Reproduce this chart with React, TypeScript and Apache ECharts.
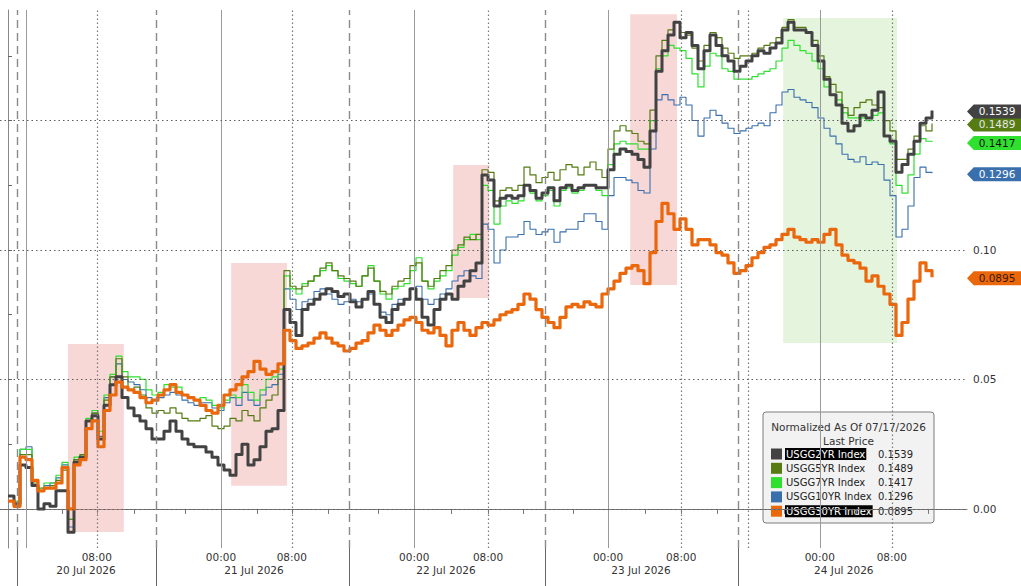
import React, { useEffect, useRef } from "react";
import * as echarts from "echarts";

// ---- series (sampled every time step, index = chart time slot) ----
const seriesNames = ["USGG2YR Index", "USGG5YR Index", "USGG7YR Index", "USGG10YR Index", "USGG30YR Index"];
const seriesColors = ["#424242", "#557b12", "#2fe02f", "#3a6fad", "#ea670c"];
const tagTextColors = ["#ffffff", "#e6e6e6", "#111111", "#ffffff", "#3a1800"];
const lineWidths = [3, 1.2, 1.2, 1.1, 3.2];
const lastPrices = [0.1539, 0.1489, 0.1417, 0.1296, 0.0895];
const highlighted = [true, false, false, false, true];

const usgg2YR = [
  0.005, 0.002, 0.017, 0.016, 0.009, 0.0, 0.002, 0.001, 0.007, 0.007,
  -0.009, 0.018, 0.02, 0.034, 0.036, 0.027, 0.04, 0.048, 0.051, 0.043,
  0.039, 0.036, 0.034, 0.031, 0.027, 0.027, 0.03, 0.034, 0.03, 0.027,
  0.025, 0.024, 0.024, 0.022, 0.02, 0.017, 0.015, 0.013, 0.021, 0.025,
  0.017, 0.019, 0.024, 0.03, 0.031, 0.038, 0.077, 0.072, 0.067, 0.077,
  0.079, 0.081, 0.083, 0.085, 0.084, 0.082, 0.083, 0.08, 0.078, 0.081,
  0.084, 0.079, 0.074, 0.072, 0.077, 0.079, 0.081, 0.085, 0.081, 0.074,
  0.071, 0.077, 0.081, 0.083, 0.081, 0.086, 0.088, 0.092, 0.095, 0.129,
  0.127, 0.117, 0.12, 0.121, 0.12, 0.121, 0.125, 0.123, 0.12, 0.122,
  0.124, 0.119, 0.124, 0.125, 0.123, 0.124, 0.125, 0.125, 0.124, 0.124,
  0.131, 0.137, 0.139, 0.138, 0.137, 0.135, 0.132, 0.146, 0.169, 0.177,
  0.183, 0.188, 0.182, 0.184, 0.179, 0.17, 0.177, 0.183, 0.179, 0.175,
  0.173, 0.169, 0.171, 0.173, 0.175, 0.177, 0.176, 0.178, 0.18, 0.185,
  0.188, 0.185, 0.185, 0.184, 0.179, 0.173, 0.166, 0.16, 0.156, 0.149,
  0.146, 0.148, 0.152, 0.151, 0.154, 0.161, 0.144, 0.142, 0.13, 0.133,
  0.137, 0.142, 0.149, 0.151, 0.1539,
];
const usgg5YR = [
  0.005, 0.002, 0.021, 0.021, 0.01, 0.007, 0.008, 0.009, 0.011, 0.015,
  -0.004, 0.019, 0.021, 0.034, 0.037, 0.027, 0.042, 0.051, 0.058, 0.051,
  0.046, 0.047, 0.044, 0.039, 0.037, 0.038, 0.037, 0.039, 0.037, 0.035,
  0.034, 0.034, 0.035, 0.036, 0.032, 0.031, 0.032, 0.035, 0.034, 0.038,
  0.036, 0.034, 0.039, 0.042, 0.044, 0.05, 0.092, 0.086, 0.085, 0.086,
  0.088, 0.09, 0.093, 0.095, 0.092, 0.09, 0.089, 0.088, 0.086, 0.09,
  0.093, 0.088, 0.084, 0.083, 0.086, 0.088, 0.089, 0.094, 0.095, 0.088,
  0.086, 0.089, 0.092, 0.094, 0.1, 0.102, 0.105, 0.104, 0.106, 0.131,
  0.13, 0.119, 0.123, 0.124, 0.123, 0.125, 0.132, 0.129, 0.126, 0.128,
  0.13, 0.127, 0.131, 0.133, 0.132, 0.129, 0.132, 0.134, 0.131, 0.128,
  0.139, 0.146, 0.148, 0.146, 0.145, 0.142, 0.141, 0.154, 0.175, 0.181,
  0.185, 0.188, 0.184, 0.183, 0.178, 0.173, 0.179, 0.184, 0.182, 0.178,
  0.176, 0.174, 0.175, 0.175, 0.176, 0.178, 0.179, 0.18, 0.182, 0.186,
  0.189, 0.186, 0.186, 0.184, 0.181, 0.175, 0.167, 0.164, 0.161, 0.155,
  0.152, 0.155, 0.157, 0.158, 0.156, 0.155, 0.15, 0.146, 0.135, 0.135,
  0.139, 0.144, 0.148, 0.146, 0.1489,
];
const usgg7YR = [
  0.005, 0.003, 0.023, 0.023, 0.011, 0.008, 0.01, 0.01, 0.013, 0.018,
  -0.004, 0.02, 0.021, 0.035, 0.038, 0.03, 0.044, 0.052, 0.059, 0.053,
  0.051, 0.051, 0.05, 0.046, 0.044, 0.045, 0.048, 0.047, 0.047, 0.044,
  0.043, 0.042, 0.043, 0.042, 0.04, 0.039, 0.042, 0.044, 0.043, 0.048,
  0.045, 0.042, 0.046, 0.05, 0.051, 0.054, 0.09, 0.085, 0.083, 0.087,
  0.088, 0.09, 0.092, 0.094, 0.092, 0.089, 0.088, 0.087, 0.086, 0.09,
  0.094, 0.088, 0.083, 0.081, 0.085, 0.086, 0.087, 0.092, 0.097, 0.088,
  0.085, 0.088, 0.09, 0.092, 0.098, 0.101, 0.104, 0.106, 0.104, 0.125,
  0.123, 0.11, 0.117, 0.119, 0.118, 0.119, 0.125, 0.122, 0.119, 0.121,
  0.123, 0.117, 0.123, 0.124, 0.122, 0.123, 0.125, 0.125, 0.123, 0.121,
  0.133, 0.141, 0.142, 0.141, 0.141, 0.139, 0.139, 0.15, 0.17, 0.175,
  0.179, 0.178, 0.177, 0.174, 0.168, 0.163, 0.171, 0.176, 0.175, 0.17,
  0.169, 0.166, 0.166, 0.166, 0.167, 0.168, 0.169, 0.17, 0.173, 0.178,
  0.181, 0.179, 0.177, 0.176, 0.173, 0.17, 0.163, 0.16, 0.158, 0.153,
  0.151, 0.151, 0.151, 0.15, 0.152, 0.153, 0.144, 0.141, 0.125, 0.122,
  0.129, 0.137, 0.143, 0.142, 0.1417,
];
const usgg10YR = [
  0.005, 0.002, 0.023, 0.024, 0.011, 0.008, 0.009, 0.01, 0.012, 0.017,
  -0.007, 0.019, 0.02, 0.034, 0.037, 0.028, 0.043, 0.051, 0.056, 0.05,
  0.049, 0.048, 0.046, 0.043, 0.042, 0.043, 0.044, 0.045, 0.044, 0.042,
  0.041, 0.04, 0.041, 0.041, 0.039, 0.038, 0.041, 0.043, 0.04, 0.045,
  0.042, 0.04, 0.044, 0.047, 0.048, 0.052, 0.085, 0.081, 0.077, 0.08,
  0.081, 0.084, 0.085, 0.083, 0.081, 0.079, 0.08, 0.081, 0.08, 0.081,
  0.083, 0.079, 0.076, 0.075, 0.079, 0.081, 0.081, 0.085, 0.086, 0.081,
  0.079, 0.081, 0.083, 0.085, 0.088, 0.09, 0.092, 0.09, 0.089, 0.11,
  0.108, 0.095, 0.1, 0.105, 0.105, 0.106, 0.111, 0.108, 0.106, 0.107,
  0.108, 0.103, 0.107, 0.108, 0.108, 0.111, 0.114, 0.114, 0.111, 0.108,
  0.121, 0.128, 0.128, 0.127, 0.126, 0.123, 0.122, 0.139, 0.158, 0.16,
  0.158, 0.156, 0.159, 0.156, 0.15, 0.144, 0.151, 0.154, 0.152, 0.149,
  0.147, 0.145, 0.146, 0.147, 0.148, 0.149, 0.148, 0.153, 0.156, 0.161,
  0.162, 0.159, 0.158, 0.157, 0.155, 0.151, 0.147, 0.144, 0.141, 0.137,
  0.135, 0.134, 0.136, 0.133, 0.134, 0.133, 0.127, 0.121, 0.105, 0.108,
  0.117, 0.128, 0.132, 0.13, 0.1296,
];
const usgg30YR = [
  0.003, 0.001, 0.02, 0.019, 0.011, 0.007, 0.008, 0.008, 0.01, 0.016,
  0.0, 0.017, 0.019, 0.031, 0.034, 0.024, 0.038, 0.044, 0.049, 0.047,
  0.046, 0.045, 0.043, 0.041, 0.042, 0.044, 0.046, 0.048, 0.045, 0.044,
  0.043, 0.042, 0.04, 0.038, 0.037, 0.04, 0.044, 0.046, 0.048, 0.051,
  0.053, 0.057, 0.054, 0.052, 0.053, 0.056, 0.069, 0.065, 0.062, 0.063,
  0.064, 0.066, 0.068, 0.066, 0.064, 0.063, 0.061, 0.062, 0.064, 0.065,
  0.068, 0.071, 0.069, 0.067, 0.069, 0.071, 0.073, 0.074, 0.072, 0.069,
  0.068, 0.07, 0.067, 0.063, 0.069, 0.072, 0.069, 0.067, 0.07, 0.072,
  0.071, 0.073, 0.075, 0.076, 0.077, 0.079, 0.083, 0.081, 0.077, 0.074,
  0.072, 0.07, 0.074, 0.078, 0.079, 0.078, 0.08, 0.079, 0.078, 0.083,
  0.085, 0.088, 0.091, 0.093, 0.094, 0.092, 0.087, 0.099, 0.111, 0.118,
  0.114, 0.108, 0.112, 0.108, 0.102, 0.104, 0.104, 0.102, 0.099, 0.098,
  0.095, 0.091, 0.092, 0.094, 0.097, 0.099, 0.101, 0.102, 0.104, 0.106,
  0.108, 0.105, 0.104, 0.103, 0.104, 0.103, 0.106, 0.108, 0.102, 0.098,
  0.096, 0.095, 0.093, 0.088, 0.09, 0.086, 0.083, 0.079, 0.067, 0.072,
  0.081, 0.088, 0.095, 0.092, 0.0895,
];
const seriesValues = [usgg2YR, usgg5YR, usgg7YR, usgg10YR, usgg30YR];
const drawOrder = [3, 2, 1, 0, 4];

// ---- axes (x in chart time slots) ----
const xMin = -1.333;
const xMax = 159.833;
const timeTickPos = [14.8, 35.5, 47.3, 67.7, 80, 100, 112.2, 135.3, 147.3];
const timeTickLabels = ["08:00", "00:00", "08:00", "00:00", "08:00", "00:00", "08:00", "00:00", "08:00"];
const minorTickPos = [3, 9, 14.8, 21, 29.5, 35.5, 41.5, 47.3, 53.3, 61.7, 67.7, 73.8, 80, 85.8, 94.2, 100, 106.2, 112.2, 118.2, 129.3, 135.3, 141.3, 147.3, 153.3];
const dayLabelPos = [13, 41, 73, 105.5, 139.3];
const dayLabels = ["20 Jul 2026", "21 Jul 2026", "22 Jul 2026", "23 Jul 2026", "24 Jul 2026"];
const sessionBreaks = [1.5, 24.7, 56.8, 89.5, 121.7];
const midnights = [3, 35.5, 67.7, 100, 135.3];
const morningLines = [14.8, 47.3, 80, 112.2, 123.3, 147.3];
const yMin = -0.0151;
const yMax = 0.1927;
const yGridValues = [0, 0.05, 0.1, 0.15];
const yLabelValues = [0, 0.05, 0.1];
const yTickValues = [0, 0.025, 0.05, 0.075, 0.1, 0.125, 0.15, 0.175];

// ---- shaded windows ----
const shadeX0 = [10, 37.2, 74.2, 103.7, 129.2];
const shadeX1 = [19.3, 46.5, 80.2, 111.5, 148.2];
const shadeY0 = [-0.0089, 0.0089, 0.0815, 0.0865, 0.0641];
const shadeY1 = [0.0637, 0.095, 0.1328, 0.1911, 0.1896];
const shadeColors = ["rgba(236,150,150,0.38)", "rgba(236,150,150,0.38)", "rgba(236,150,150,0.38)", "rgba(236,150,150,0.38)", "rgba(170,220,150,0.32)"];

const FONT = '"DejaVu Sans", Verdana, sans-serif';

function pickLabel(pos: number[], labels: string[], v: number) {
  const k = pos.findIndex((p) => Math.abs(p - v) < 0.01);
  return k >= 0 ? labels[k] : "";
}

function buildOption() {
  const helper = {
    type: "line",
    data: [],
    z: 1,
    silent: true,
    markArea: {
      silent: true,
      data: shadeX0.map((x0, k) => [
        { xAxis: x0, yAxis: shadeY0[k], itemStyle: { color: shadeColors[k] } },
        { xAxis: shadeX1[k], yAxis: shadeY1[k] },
      ]),
    },
    markLine: {
      silent: true,
      symbol: ["none", "none"],
      label: { show: false },
      data: [
        ...sessionBreaks.map((v) => ({ xAxis: v, lineStyle: { type: [8, 5], color: "#8a8a8a", width: 1.4 } })),
        ...midnights.map((v) => ({ xAxis: v, lineStyle: { type: "solid", color: "#9a9a9a", width: 1 } })),
        ...morningLines.map((v) => ({ xAxis: v, lineStyle: { type: [1.5, 2.5], color: "#7a7a7a", width: 1.2 } })),
        ...yGridValues.map((v) => ({ yAxis: v, lineStyle: { type: [1.5, 3], color: "#5e5e5e", width: 1.2 } })),
      ],
    },
  };

  const lines = drawOrder.map((si) => ({
    type: "line",
    name: seriesNames[si],
    data: seriesValues[si].map((v, i) => [i, v]),
    step: "end",
    showSymbol: false,
    clip: false,
    z: 3,
    lineStyle: { color: seriesColors[si], width: lineWidths[si], join: "round" },
    itemStyle: { color: seriesColors[si] },
    markPoint: {
      silent: true,
      symbol: "path://M0,7L7,0L56,0L56,14L7,14Z",
      symbolSize: [54, 14],
      symbolOffset: [27, 1],
      data: [{ coord: [xMax, lastPrices[si]], value: lastPrices[si] }],
      itemStyle: { color: seriesColors[si] },
      label: {
        show: true,
        formatter: lastPrices[si].toFixed(4),
        color: tagTextColors[si],
        fontSize: 10.5,
        fontFamily: FONT,
        offset: [3, 0],
      },
    },
  }));

  const rowY = [454, 468.3, 482.6, 496.9, 511.2];
  const titleFont = `10.5px ${FONT}`;
  const rowFont = `10px ${FONT}`;
  const legendChildren: any[] = [
    {
      type: "rect",
      shape: { x: 763, y: 412, width: 171, height: 111, r: 3 },
      style: { fill: "rgba(240,240,240,0.86)", stroke: "#7d7d7d", lineWidth: 1 },
    },
    {
      type: "text",
      x: 848.5,
      y: 427,
      style: { text: "Normalized As Of 07/17/2026", fill: "#333", font: titleFont, align: "center", verticalAlign: "middle", textAlign: "center", textVerticalAlign: "middle" },
    },
    {
      type: "text",
      x: 848.5,
      y: 441,
      style: { text: "Last Price", fill: "#333", font: titleFont, align: "center", verticalAlign: "middle", textAlign: "center", textVerticalAlign: "middle" },
    },
  ];
  seriesNames.forEach((n, i) => {
    legendChildren.push({
      type: "rect",
      shape: { x: 771, y: rowY[i] - 5.5, width: 11, height: 11 },
      style: { fill: seriesColors[i] },
    });
    legendChildren.push({
      type: "text",
      x: 785,
      y: rowY[i],
      style: {
        text: n,
        fill: highlighted[i] ? "#ffffff" : "#222",
        backgroundColor: highlighted[i] ? "#000000" : "transparent",
        padding: [1, 1, 1, 1],
        font: rowFont,
        align: "left",
        verticalAlign: "middle",
        textAlign: "left",
        textVerticalAlign: "middle",
      },
    });
    legendChildren.push({
      type: "text",
      x: 878,
      y: rowY[i],
      style: { text: lastPrices[i].toFixed(4), fill: "#222", font: rowFont, align: "left", verticalAlign: "middle", textAlign: "left", textVerticalAlign: "middle" },
    });
  });

  return {
    animation: false,
    backgroundColor: "#ffffff",
    textStyle: { fontFamily: FONT },
    grid: { left: 0, right: 54, top: 10, bottom: 38, containLabel: false },
    xAxis: [
      {
        type: "value",
        min: xMin,
        max: xMax,
        position: "bottom",
        axisLine: { show: true, lineStyle: { color: "#777", width: 1 } },
        axisTick: { show: true, inside: false, length: 5, customValues: minorTickPos, lineStyle: { color: "#777" } },
        axisLabel: {
          show: true,
          customValues: timeTickPos,
          formatter: (v: number) => pickLabel(timeTickPos, timeTickLabels, v),
          color: "#333",
          fontSize: 10.5,
          fontFamily: FONT,
          margin: 3,
        },
        splitLine: { show: false },
      },
      {
        type: "value",
        min: xMin,
        max: xMax,
        position: "bottom",
        offset: 0,
        axisLine: { show: false },
        axisTick: { show: true, inside: false, length: 38, customValues: sessionBreaks, lineStyle: { color: "#666" } },
        axisLabel: {
          show: true,
          customValues: dayLabelPos,
          formatter: (v: number) => pickLabel(dayLabelPos, dayLabels, v),
          color: "#333",
          fontSize: 10.5,
          fontFamily: FONT,
          margin: 16,
        },
        splitLine: { show: false },
      },
    ],
    yAxis: {
      type: "value",
      position: "right",
      min: yMin,
      max: yMax,
      axisLine: { show: true, lineStyle: { color: "#888" } },
      axisTick: { show: true, inside: false, length: 4, customValues: yTickValues, lineStyle: { color: "#666" } },
      axisLabel: {
        show: true,
        customValues: yLabelValues,
        formatter: (v: number) => v.toFixed(2),
        color: "#333",
        fontSize: 10.5,
        fontFamily: FONT,
        margin: 6,
      },
      splitLine: { show: false },
    },
    series: [helper, ...lines],
    graphic: [{ type: "group", z: 100, children: legendChildren }],
  };
}

export default function App() {
  const ref = useRef<HTMLDivElement>(null);
  useEffect(() => {
    if (!ref.current) return;
    const chart = echarts.init(ref.current, undefined, { renderer: "svg" });
    chart.setOption(buildOption() as any);
    return () => chart.dispose();
  }, []);
  return (
    <div
      ref={ref}
      style={{ position: "fixed", left: 0, top: 0, width: 1021, height: 586, background: "#fff" }}
    />
  );
}
